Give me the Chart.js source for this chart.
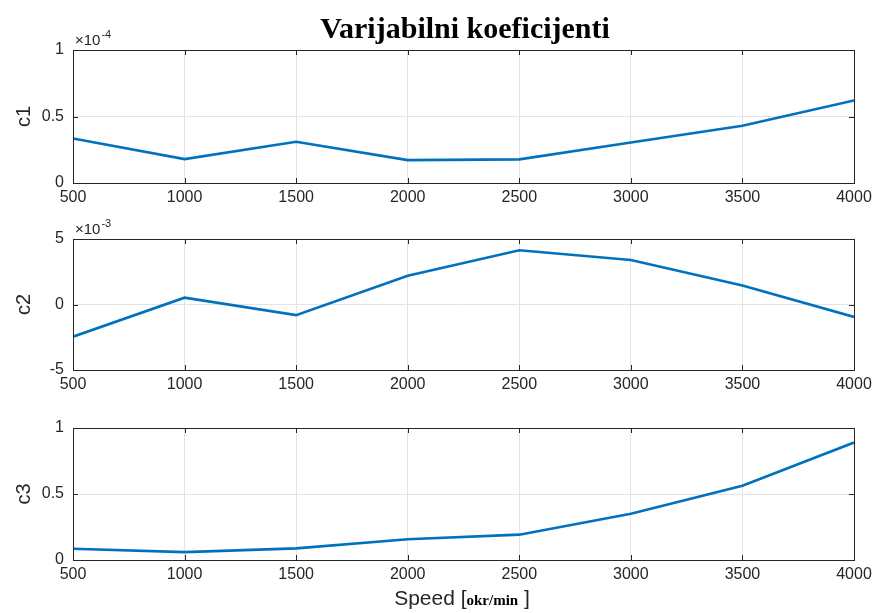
<!DOCTYPE html>
<html>
<head>
<meta charset="utf-8">
<script src="https://cdn.jsdelivr.net/npm/chart.js@4"></script>
<style>
  body { margin: 0; background: #fff; }
  #wrap { position: relative; width: 877px; height: 613px; }
  #wrap canvas { position: absolute; left: 0; top: 0; }
</style>
</head>
<body>
<div id="wrap">
  <canvas id="c1" width="877" height="613"></canvas>
  <canvas id="c2" width="877" height="613"></canvas>
  <canvas id="c3" width="877" height="613"></canvas>
</div>
<script>
const speed = [500, 1000, 1500, 2000, 2500, 3000, 3500, 4000];
const c1 = [0.335e-4, 0.18e-4, 0.31e-4, 0.172e-4, 0.178e-4, 0.305e-4, 0.43e-4, 0.62e-4];
const c2 = [-2.46e-3, 0.52e-3, -0.81e-3, 2.2e-3, 4.14e-3, 3.4e-3, 1.45e-3, -0.95e-3];
const c3 = [0.085, 0.06, 0.088, 0.157, 0.192, 0.35, 0.563, 0.89];

const xTicks = [500, 1000, 1500, 2000, 2500, 3000, 3500, 4000];
const c1Ticks = [0, 0.5, 1];
const c2Ticks = [-5, 0, 5];
const c3Ticks = [0, 0.5, 1];

const axisColor = '#262626';
const gridColor = '#e3e3e3';
const lineColor = '#0072BD';
const sans = 'Arial, "Liberation Sans", Helvetica, sans-serif';
const serif = '"Liberation Serif", "Times New Roman", serif';

// box outline, inward ticks, exponent marker and extra texts
const boxPlugin = {
  id: 'box',
  afterDraw(chart, args, opts) {
    const { ctx, chartArea: a, scales } = chart;
    ctx.save();
    ctx.strokeStyle = axisColor;
    ctx.lineWidth = 1;
    ctx.beginPath();
    scales.x.ticks.forEach(t => {
      const x = Math.round(scales.x.getPixelForValue(t.value)) + 0.5;
      ctx.moveTo(x, a.top); ctx.lineTo(x, a.top + 5);
      ctx.moveTo(x, a.bottom); ctx.lineTo(x, a.bottom - 5);
    });
    scales.y.ticks.forEach(t => {
      const y = Math.round(scales.y.getPixelForValue(t.value)) + 0.5;
      ctx.moveTo(a.left, y); ctx.lineTo(a.left + 5, y);
      ctx.moveTo(a.right, y); ctx.lineTo(a.right - 5, y);
    });
    ctx.stroke();
    ctx.strokeRect(Math.round(a.left) + 0.5, Math.round(a.top) + 0.5,
      Math.round(a.right - a.left), Math.round(a.bottom - a.top));

    ctx.fillStyle = axisColor;
    ctx.textBaseline = 'alphabetic';
    if (opts.exp) {
      ctx.font = '15px ' + sans;
      ctx.textAlign = 'left';
      ctx.fillText('\u00d710', a.left + 2, a.top - 5);
      const w = ctx.measureText('\u00d710').width;
      ctx.font = '11px ' + sans;
      ctx.fillText(opts.exp, a.left + 3 + w, a.top - 12);
    }
    if (opts.title) {
      ctx.fillStyle = '#000';
      ctx.font = 'bold 30px ' + serif;
      ctx.textAlign = 'center';
      ctx.fillText(opts.title, 465, 38);
    }
    if (opts.xlabel) {
      const parts = [
        ['Speed [', '21px ' + sans, axisColor],
        ['okr/min', 'bold 15px ' + serif, '#000'],
        [' ]', '21px ' + sans, axisColor]
      ];
      let total = 0;
      parts.forEach(p => { ctx.font = p[1]; total += ctx.measureText(p[0]).width; });
      let x = 462 - total / 2;
      ctx.textAlign = 'left';
      parts.forEach(p => {
        ctx.font = p[1];
        ctx.fillStyle = p[2];
        ctx.fillText(p[0], x, 605);
        x += ctx.measureText(p[0]).width;
      });
    }
    ctx.restore();
  }
};

function makeChart(id, values, scale, ticks, label, top, bottom, extra) {
  const ctx = document.getElementById(id).getContext('2d');
  return new Chart(ctx, {
    type: 'line',
    data: {
      labels: speed,
      datasets: [{
        data: speed.map((s, i) => ({ x: s, y: values[i] })),
        borderColor: lineColor,
        borderWidth: 2.6,
        pointRadius: 0,
        tension: 0,
        fill: false
      }]
    },
    options: {
      responsive: false,
      animation: false,
      layout: { padding: { left: 0, right: 23, top: top, bottom: 613 - bottom - 28 } },
      plugins: {
        legend: { display: false },
        tooltip: { enabled: false },
        box: extra
      },
      scales: {
        x: {
          type: 'linear',
          min: 500,
          max: 4000,
          afterBuildTicks: s => { s.ticks = xTicks.map(v => ({ value: v })); },
          afterFit: s => { s.height = 28; },
          border: { display: false },
          grid: { color: gridColor, drawTicks: false },
          ticks: {
            color: axisColor,
            font: { family: sans, size: 16 },
            padding: 5,
            callback: v => String(v)
          }
        },
        y: {
          min: ticks[0] * scale,
          max: ticks[ticks.length - 1] * scale,
          afterBuildTicks: s => { s.ticks = ticks.map(v => ({ value: v * scale })); },
          afterFit: s => { s.width = 73; },
          border: { display: false },
          grid: { color: gridColor, drawTicks: false },
          ticks: {
            color: axisColor,
            font: { family: sans, size: 16 },
            padding: 9,
            callback: v => String(Math.round(v / scale * 10) / 10)
          },
          title: {
            display: true,
            text: label,
            color: axisColor,
            font: { family: sans, size: 20 },
            padding: { top: 12, bottom: 0 }
          }
        }
      }
    },
    plugins: [boxPlugin]
  });
}

makeChart('c1', c1, 1e-4, c1Ticks, 'c1', 50, 183, { exp: '-4', title: 'Varijabilni koeficijenti' });
makeChart('c2', c2, 1e-3, c2Ticks, 'c2', 239, 370, { exp: '-3' });
makeChart('c3', c3, 1, c3Ticks, 'c3', 428, 560, { xlabel: true });
</script>
</body>
</html>
